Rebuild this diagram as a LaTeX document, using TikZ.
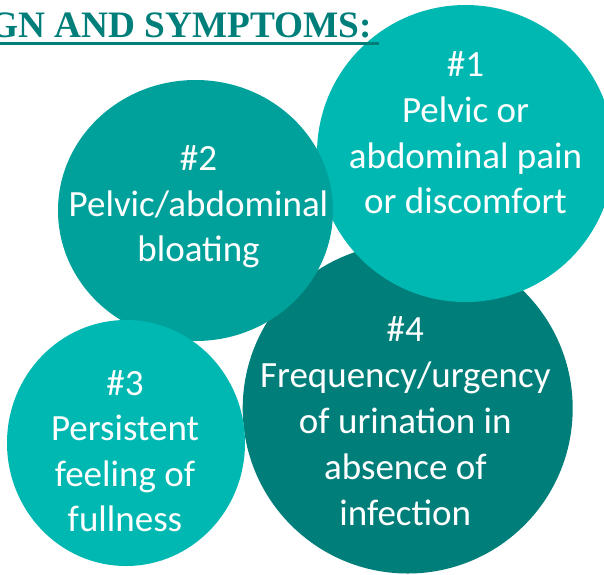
\documentclass[tikz,border=0pt]{standalone}
\usepackage{fontspec}
\setmainfont{Carlito}
\newfontfamily\titlefont{Liberation Serif}
\definecolor{tealL}{HTML}{00B8B2}
\definecolor{tealM}{HTML}{00A19B}
\definecolor{tealD}{HTML}{007E7A}
\tikzset{
  lbl/.style={text=white, font=\fontsize{37}{45}\selectfont, inner sep=0pt, anchor=base},
  titlestyle/.style={text=tealD, font=\titlefont\bfseries\fontsize{37.3}{40}\selectfont, inner sep=0pt, anchor=base east}
}
\begin{document}
\begin{tikzpicture}[x=1pt,y=-1pt]
\useasboundingbox (0,0) rectangle (604,574);
\clip (0,0) rectangle (604,574);
% circles (back to front)
\fill[tealD] (407.7,408.5) ellipse [x radius=165pt, y radius=165pt];
\fill[tealL] (465.5,153.5) ellipse [x radius=148.5pt, y radius=148.5pt];
\fill[tealM] (195.5,210.5) ellipse [x radius=137.5pt, y radius=130.5pt];
\fill[tealL] (126,443) ellipse [x radius=119pt, y radius=123pt];
% #1
\node[lbl] (t1a) at (465.5,76.7) {\#1};
\node[lbl] (t1b) at (465.5,122.7) {Pelvic or};
\node[lbl] (t1c) at (465.5,168.3) {abdominal pain};
\node[lbl] (t1d) at (465.5,213.3) {or discomfort};
% #2
\node[lbl] (t2a) at (198.5,170) {\#2};
\node[lbl] (t2b) at (198.5,216) {Pelvic/abdominal};
\node[lbl] (t2c) at (198.5,261.7) {bloating};
% #3
\node[lbl] (t3a) at (125,395) {\#3};
\node[lbl] (t3b) at (125,440.7) {Persistent};
\node[lbl] (t3c) at (125,486) {feeling of};
\node[lbl] (t3d) at (125,531.7) {fullness};
% #4
\node[lbl] (t4a) at (405.3,341.7) {\#4};
\node[lbl] (t4b) at (405.3,387.3) {Frequency/urgency};
\node[lbl] (t4c) at (405.3,433.3) {of urination in};
\node[lbl] (t4d) at (405.3,479.3) {absence of};
\node[lbl] (t4e) at (405.3,525) {infection};
% title
\node[titlestyle] (title) at (372,37.3) {GN AND SYMPTOMS:};
\fill[tealD] (-5,41.7) rectangle (379,45);
\end{tikzpicture}
\end{document}
